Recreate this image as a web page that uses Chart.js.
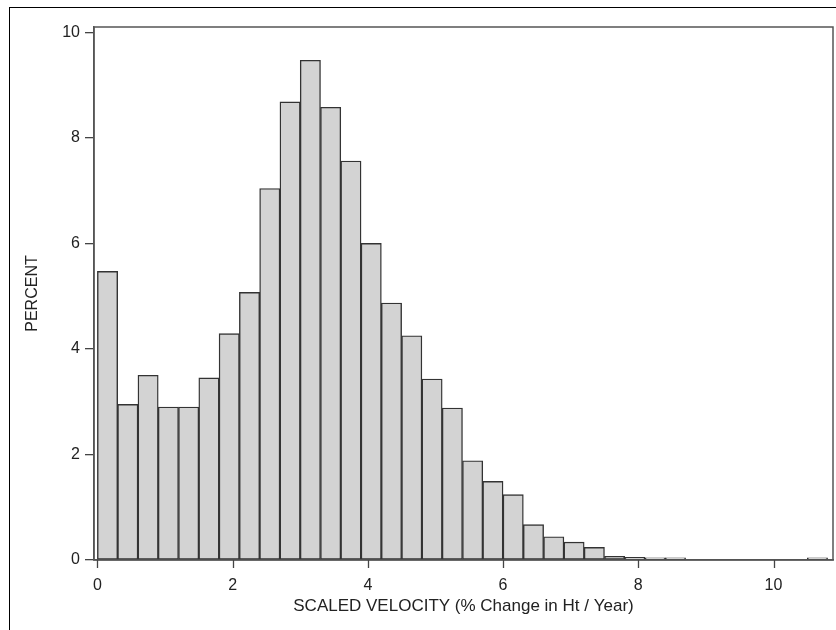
<!DOCTYPE html>
<html>
<head>
<meta charset="utf-8">
<script src="https://cdn.jsdelivr.net/npm/chart.js@4/dist/chart.umd.min.js"></script>
<style>
  html, body { margin: 0; padding: 0; background: #fff; overflow: hidden; }
  #wrap { position: relative; width: 836px; height: 630px; }
  #frame { position: absolute; left: 9px; top: 7px; width: 900px; height: 700px; border: 1px solid #000; }
  canvas { position: absolute; left: 0; top: 0; }
</style>
</head>
<body>
<div id="wrap">
  <div id="frame"></div>
  <canvas id="hist" width="836" height="630"></canvas>
</div>
<script>
// histogram of scaled velocity, bins of 0.3 starting at 0
const binLeft = [0, 0.3, 0.6, 0.9, 1.2, 1.5, 1.8, 2.1, 2.4, 2.7, 3.0, 3.3, 3.6, 3.9, 4.2, 4.5, 4.8, 5.1,
  5.4, 5.7, 6.0, 6.3, 6.6, 6.9, 7.2, 7.5, 7.8, 8.1, 8.4, 8.7, 9.0, 9.3, 9.6, 9.9, 10.2, 10.5];
const binWidth = 0.3;
const percent = [5.47, 2.95, 3.50, 2.90, 2.90, 3.45, 4.29, 5.07, 7.04, 8.68, 9.47, 8.58, 7.56, 6.00, 4.87, 4.25, 3.43, 2.88,
  1.88, 1.49, 1.24, 0.67, 0.44, 0.34, 0.24, 0.07, 0.05, 0.04, 0.04, 0, 0, 0, 0, 0, 0, 0.04];
const xTicks = [0, 2, 4, 6, 8, 10];
const yTicks = [0, 2, 4, 6, 8, 10];

const font = { family: '"Liberation Sans", Arial, sans-serif', size: 16 };
const titleFont = { family: '"Liberation Sans", Arial, sans-serif', size: 17 };

// box round the plot area + tick marks under the x axis
const frameBox = {
  id: 'frameBox',
  afterDraw(chart) {
    const { ctx, chartArea: a, scales } = chart;
    ctx.save();
    ctx.strokeStyle = '#555';
    ctx.lineWidth = 1.5;
    ctx.strokeRect(a.left, a.top, a.right - a.left, a.bottom - a.top);
    ctx.strokeStyle = '#444';
    ctx.lineWidth = 1.3;
    ctx.beginPath();
    for (const v of xTicks) {
      const px = Math.round(scales.x.getPixelForValue(v)) + 0.5;
      ctx.moveTo(px, a.bottom);
      ctx.lineTo(px, a.bottom + 8);
    }
    ctx.stroke();
    ctx.restore();
  }
};

const data = {
  datasets: [{
    label: 'PERCENT',
    data: binLeft.map((x, i) => ({ x: x + binWidth / 2, y: percent[i] })),
    backgroundColor: '#d3d3d3',
    borderColor: '#333',
    borderWidth: 1.4,
    borderSkipped: false,
    barPercentage: 1,
    categoryPercentage: 1
  }]
};

new Chart(document.getElementById('hist').getContext('2d'), {
  type: 'bar',
  data,
  options: {
    responsive: false,
    animation: false,
    layout: { padding: { left: 0, right: 3, top: 27, bottom: 0 } },
    plugins: { legend: { display: false }, tooltip: { enabled: false } },
    scales: {
      x: {
        type: 'linear',
        min: -0.05,
        max: 10.88,
        offset: false,
        afterBuildTicks: s => { s.ticks = xTicks.map(v => ({ value: v })); },
        afterFit: s => { s.height = 70; },
        ticks: { color: '#222', font, padding: 8, maxRotation: 0 },
        grid: { display: false, offset: false, drawOnChartArea: false, drawTicks: true, tickLength: 8 },
        border: { display: true, color: '#555', width: 1.5 },
        title: { display: true, text: 'SCALED VELOCITY (% Change in Ht / Year)', color: '#222', font: titleFont, padding: { top: 0, bottom: 13 } }
      },
      y: {
        min: 0,
        max: 10.1,
        afterBuildTicks: s => { s.ticks = yTicks.map(v => ({ value: v })); },
        afterFit: s => { s.width = 94; },
        ticks: { color: '#222', font, padding: 5 },
        grid: { drawOnChartArea: false, drawTicks: true, tickLength: 9, color: '#444', lineWidth: 1.3 },
        border: { display: true, color: '#555', width: 1.5 },
        title: { display: true, text: 'PERCENT', color: '#222', font, padding: { top: 23, bottom: 0 } }
      }
    }
  },
  plugins: [frameBox]
});
</script>
</body>
</html>
